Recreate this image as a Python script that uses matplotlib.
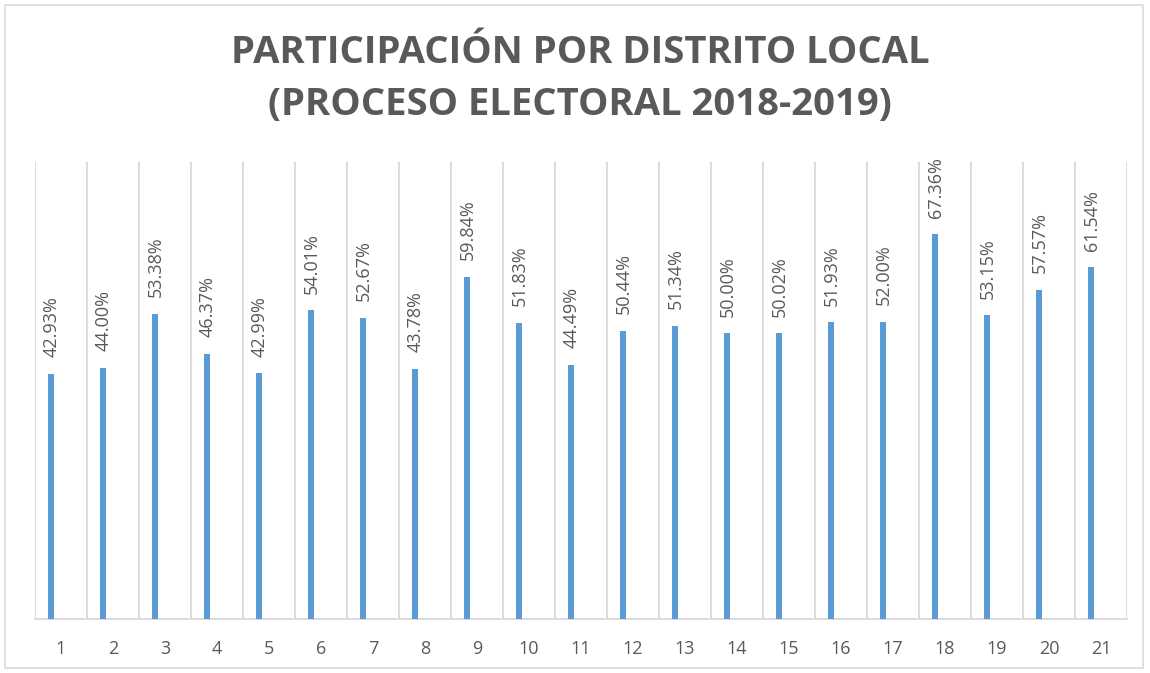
import matplotlib
matplotlib.use("Agg")
import matplotlib.pyplot as plt
from matplotlib.patches import Rectangle

districts = [str(i) for i in range(1, 22)]
participation = [42.93, 44.00, 53.38, 46.37, 42.99, 54.01, 52.67, 43.78, 59.84, 51.83,
                 44.49, 50.44, 51.34, 50.00, 50.02, 51.93, 52.00, 67.36, 53.15, 57.57, 61.54]
title_lines = ["PARTICIPACIÓN POR DISTRITO LOCAL", "(PROCESO ELECTORAL 2018-2019)"]

BLUE = "#5B9BD5"
GRID = "#D9D9D9"
TEXT = "#595959"
BAR_OFFSET = -0.19

plt.rcParams['font.family'] = ['Open Sans', 'DejaVu Sans']

fig = plt.figure(figsize=(11.5, 6.73), dpi=100)
fig.patches.append(Rectangle((5/1150, 5/673), 1138/1150, 663/673, transform=fig.transFigure,
                             fill=False, edgecolor=GRID, linewidth=1.2))

ax = fig.add_axes([35/1150, 1 - 619/673, 1092/1150, 457/673])
x = list(range(len(districts)))
xb = [xi + BAR_OFFSET for xi in x]
ax.bar(xb, participation, width=0.11, color=BLUE, zorder=3)
ax.set_xlim(-0.5, len(districts) - 0.5)
ax.set_ylim(0, 80)

for i in range(len(districts) + 1):
    ax.axvline(i - 0.5, color=GRID, linewidth=1.3, zorder=1)

for xi, v in zip(xb, participation):
    ax.annotate(f"{v:.2f}%", (xi, v), xytext=(0.5, 12), textcoords="offset points",
                rotation=90, ha="center", va="bottom", fontsize=13, color=TEXT)

ax.set_xticks(x)
ax.set_xticklabels(districts, fontsize=13, color=TEXT)
ax.tick_params(axis='x', length=0, pad=15)
ax.set_yticks([])
for s in ["top", "right", "left"]:
    ax.spines[s].set_visible(False)
ax.spines["bottom"].set_color(GRID)
ax.spines["bottom"].set_linewidth(1.3)
ax.patch.set_alpha(0)

fig.text(580/1150, 1 - 53/673, title_lines[0], ha="center", va="center",
         fontsize=27.5, fontweight="bold", color=TEXT)
fig.text(580/1150, 1 - 105/673, title_lines[1], ha="center", va="center",
         fontsize=27.5, fontweight="bold", color=TEXT)

fig.savefig("out.png", dpi=100)
